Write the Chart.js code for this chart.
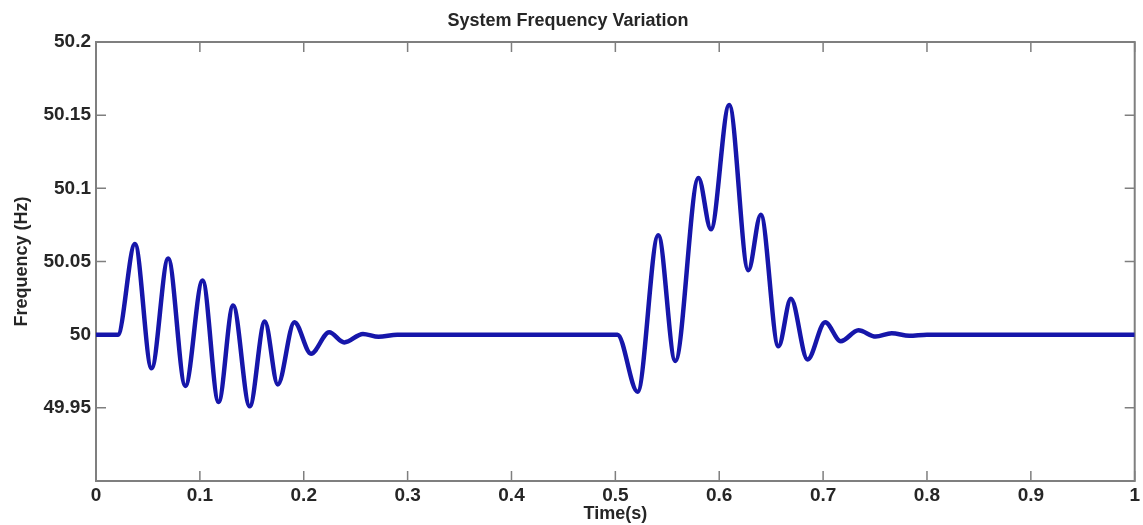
<!DOCTYPE html>
<html>
<head>
<meta charset="utf-8">
<title>System Frequency Variation</title>
<script src="https://cdn.jsdelivr.net/npm/chart.js@4"></script>
<style>
  html, body { margin: 0; padding: 0; background: #ffffff; }
  #wrap { width: 1143px; height: 525px; }
</style>
</head>
<body>
<div id="wrap"><canvas id="freqChart" width="1143" height="525"></canvas></div>
<script>
// data (time in s, frequency in Hz)
const timeValues = [
  0, 0.021, 0.0375, 0.0535, 0.0695, 0.086, 0.1026, 0.118, 0.132, 0.148,
  0.1625, 0.175, 0.191, 0.207, 0.2245, 0.239, 0.257, 0.272, 0.29,
  0.502, 0.5214, 0.5413, 0.5577, 0.58, 0.592, 0.6096, 0.628, 0.64, 0.657,
  0.669, 0.685, 0.702, 0.717, 0.734, 0.7506, 0.766, 0.783, 0.8, 1.0
];
const freqValues = [
  50, 50, 50.062, 49.977, 50.052, 49.965, 50.037, 49.954, 50.020, 49.951,
  50.009, 49.966, 50.0085, 49.987, 50.0016, 49.9947, 50.0005, 49.9985, 50,
  50, 49.961, 50.068, 49.982, 50.107, 50.072, 50.157, 50.044, 50.082, 49.992,
  50.0245, 49.983, 50.0085, 49.9955, 50.003, 49.9987, 50.001, 49.9993, 50, 50
];
const xTickValues = [0, 0.1, 0.2, 0.3, 0.4, 0.5, 0.6, 0.7, 0.8, 0.9, 1];
const yTickValues = [49.95, 50, 50.05, 50.1, 50.15, 50.2];

const fontFamily = '"Liberation Sans", Arial, Helvetica, sans-serif';
const textColor = '#262626';
const axisColor = '#7f7f7f';
const tickLen = 10;

// box round the plot with inward ticks on all four sides (matlab look)
const frameBox = {
  id: 'frameBox',
  beforeDatasetsDraw(chart) {
    const { ctx, chartArea: a, scales: { x, y } } = chart;
    ctx.save();
    ctx.strokeStyle = axisColor;
    ctx.lineWidth = 1.5;
    ctx.beginPath();
    x.ticks.forEach(t => {
      const px = x.getPixelForValue(t.value);
      ctx.moveTo(px, a.bottom); ctx.lineTo(px, a.bottom - tickLen);
      ctx.moveTo(px, a.top); ctx.lineTo(px, a.top + tickLen);
    });
    y.ticks.forEach(t => {
      const py = y.getPixelForValue(t.value);
      ctx.moveTo(a.left, py); ctx.lineTo(a.left + tickLen, py);
      ctx.moveTo(a.right, py); ctx.lineTo(a.right - tickLen, py);
    });
    ctx.stroke();
    ctx.lineWidth = 2;
    ctx.strokeRect(a.left, a.top, a.right - a.left, a.bottom - a.top);
    ctx.restore();
  }
};

const points = timeValues.map((t, i) => ({ x: t, y: freqValues[i] }));

new Chart(document.getElementById('freqChart').getContext('2d'), {
  type: 'line',
  data: {
    datasets: [{
      label: 'Frequency',
      data: points,
      borderColor: '#1616aa',
      borderWidth: 4.5,
      pointRadius: 0,
      fill: false,
      cubicInterpolationMode: 'monotone'
    }]
  },
  options: {
    responsive: false,
    devicePixelRatio: 1,
    animation: false,
    layout: { padding: { left: 0, right: 7, top: 0, bottom: 0 } },
    plugins: {
      legend: { display: false },
      tooltip: { enabled: false },
      title: {
        display: true,
        text: 'System Frequency Variation',
        color: textColor,
        font: { family: fontFamily, size: 18, weight: 'bold' },
        padding: { top: 10, bottom: 10.4 }
      }
    },
    scales: {
      x: {
        type: 'linear',
        min: 0,
        max: 1,
        afterBuildTicks: s => { s.ticks = xTickValues.map(v => ({ value: v })); },
        afterFit: s => { s.height = 44; },
        grid: { display: false, drawTicks: false },
        border: { display: false },
        ticks: {
          color: textColor,
          padding: 3,
          maxRotation: 0,
          font: { family: fontFamily, size: 19, weight: 'bold' },
          callback: v => String(v)
        },
        title: {
          display: true,
          text: 'Time(s)',
          color: textColor,
          font: { family: fontFamily, size: 18, weight: 'bold' },
          padding: { top: 0, bottom: 0 }
        }
      },
      y: {
        type: 'linear',
        min: 49.9,
        max: 50.2,
        afterBuildTicks: s => { s.ticks = yTickValues.map(v => ({ value: v })); },
        afterFit: s => { s.width = 96; },
        grid: { display: false, drawTicks: false },
        border: { display: false },
        ticks: {
          color: textColor,
          padding: 5,
          font: { family: fontFamily, size: 19, weight: 'bold' },
          callback: v => String(v)
        },
        title: {
          display: true,
          text: 'Frequency (Hz)',
          color: textColor,
          font: { family: fontFamily, size: 18, weight: 'bold' },
          padding: { top: 11, bottom: 0 }
        }
      }
    }
  },
  plugins: [frameBox]
});
</script>
</body>
</html>
